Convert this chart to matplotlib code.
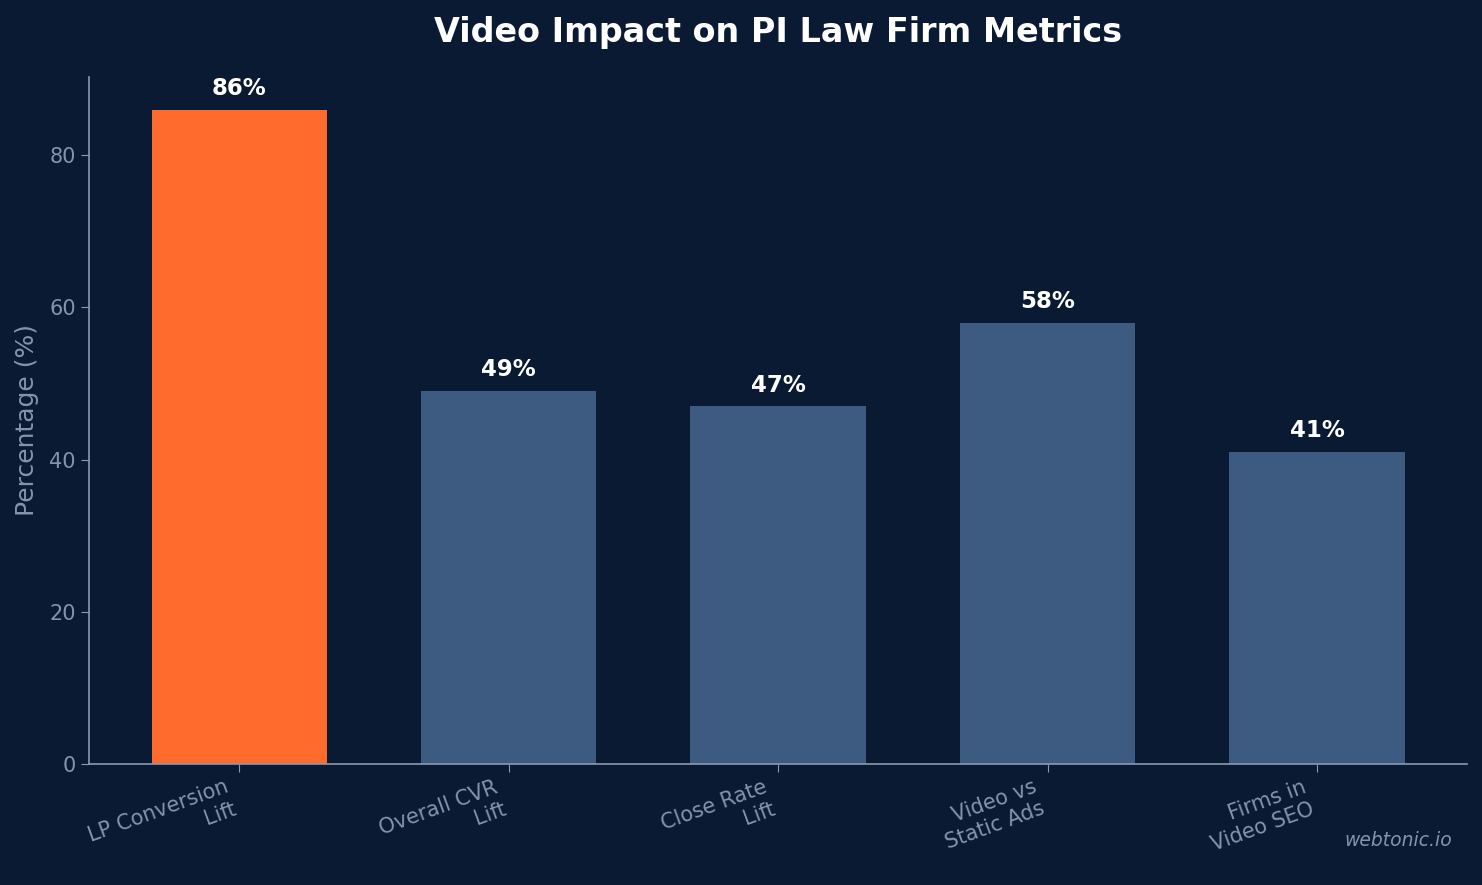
import matplotlib
matplotlib.use("Agg")
import matplotlib.pyplot as plt

categories = ["LP Conversion\nLift", "Overall CVR\nLift", "Close Rate\nLift", "Video vs\nStatic Ads", "Firms in\nVideo SEO"]
values = [86, 49, 47, 58, 41]
highlight = [True, False, False, False, False]

BG = "#0b1a33"
ORANGE = "#ff6b2c"
BLUE = "#3d5a80"
TXT = "#8494aa"
SPINE = "#8a9ab0"

fig = plt.figure(figsize=(14.82, 8.85), dpi=100, facecolor=BG)
ax = fig.add_axes([0.060, 0.137, 0.930, 0.776])
ax.set_facecolor(BG)

x = list(range(len(categories)))
colors = [ORANGE if h else BLUE for h in highlight]
bars = ax.bar(x, values, width=0.65, color=colors, zorder=2)

for b, v in zip(bars, values):
    ax.annotate(f"{v}%", (b.get_x() + b.get_width() / 2, v), xytext=(0, 7),
                textcoords="offset points", ha="center", va="bottom",
                color="white", fontsize=16.5, fontweight="bold")

ax.set_ylim(0, 86 * 1.05)
ax.set_yticks([0, 20, 40, 60, 80])
ax.set_xticks(x)
ax.set_xticklabels(categories, rotation=20, ha="right", fontsize=15, color=TXT)
ax.tick_params(axis="y", labelsize=15, colors=SPINE, labelcolor=TXT, length=6)
ax.tick_params(axis="x", colors=SPINE, labelcolor=TXT, length=6)
ax.set_ylabel("Percentage (%)", fontsize=18, color=TXT, labelpad=7)

for s in ["top", "right"]:
    ax.spines[s].set_visible(False)
for s in ["left", "bottom"]:
    ax.spines[s].set_color(SPINE)
    ax.spines[s].set_linewidth(1.2)

ax.set_title("Video Impact on PI Law Firm Metrics", fontsize=24, fontweight="bold",
             color="white", pad=25)

fig.text(0.980, 0.050, "webtonic.io", ha="right", va="center", fontsize=13.5,
         style="italic", color=TXT)

fig.savefig("out.png", dpi=100, facecolor=BG)
